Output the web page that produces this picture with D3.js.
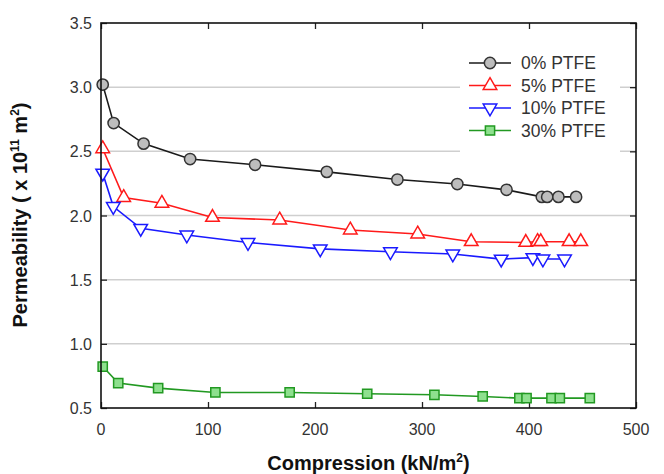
<!DOCTYPE html>
<html lang='en'>
<head>
<meta charset='utf-8'>
<title>Permeability vs Compression</title>
<script src='https://cdnjs.cloudflare.com/ajax/libs/d3/7.8.5/d3.min.js'></script>
<style>
body {
   margin:0;
   background:white;
   overflow:hidden;
}
svg text {
   font-family:'Liberation Sans', Arial, sans-serif;
}
</style>
</head>
<body>
<script>
// values
var seriesNames = ['0% PTFE', '5% PTFE', '10% PTFE', '30% PTFE'];
var comp0 = [1.6, 11.8, 39.8, 83.3, 144, 211, 277, 333, 379, 412, 417, 427.5, 444];
var perm0 = [3.02, 2.72, 2.56, 2.44, 2.395, 2.34, 2.28, 2.245, 2.2, 2.145, 2.145, 2.145, 2.145];
var comp5 = [1.6, 21.2, 56.9, 104.2, 167, 233, 296, 346, 397, 408, 411, 437.5, 448.4];
var perm5 = [2.52, 2.14, 2.095, 1.985, 1.965, 1.887, 1.856, 1.796, 1.79, 1.797, 1.796, 1.796, 1.796];
var comp10 = [1.6, 11.5, 37.1, 80.2, 137.4, 204.9, 270.5, 328.8, 374, 403.6, 413, 433.2];
var perm10 = [2.33, 2.07, 1.9, 1.848, 1.79, 1.74, 1.718, 1.7, 1.66, 1.672, 1.661, 1.661];
var comp30 = [1.6, 16.1, 53.4, 106.9, 176.3, 248.8, 311.6, 356.7, 391, 397.7, 421, 428.8, 456.8];
var perm30 = [0.823, 0.694, 0.655, 0.621, 0.621, 0.611, 0.603, 0.59, 0.577, 0.577, 0.577, 0.577, 0.577];
var xTicks = [0, 100, 200, 300, 400, 500];
var yTicks = [0.5, 1.0, 1.5, 2.0, 2.5, 3.0, 3.5];
var gridVals = [1.0, 1.5, 2.0, 2.5, 3.0];

var W = 664, H = 474;
var pL = 101, pR = 636, pT = 23, pB = 408;

var series = [
   {name:seriesNames[0], xs:comp0, ys:perm0, line:'#1a1a1a', stroke:'#333', fill:'#bdbdbd', sym:'circle'},
   {name:seriesNames[1], xs:comp5, ys:perm5, line:'#ff1a1a', stroke:'#ff1a1a', fill:'#fff', sym:'up'},
   {name:seriesNames[2], xs:comp10, ys:perm10, line:'#1a1aff', stroke:'#1a1aff', fill:'#fff', sym:'down'},
   {name:seriesNames[3], xs:comp30, ys:perm30, line:'#229922', stroke:'#229922', fill:'#8ee08e', sym:'square'}
];

var x = d3.scaleLinear().domain([0, 500]).range([pL, pR]);
var y = d3.scaleLinear().domain([0.5, 3.5]).range([pB, pT]);

var svg = d3.select('body').append('svg').attr('width', W).attr('height', H);

// grid
svg.append('g').selectAll('line')
   .data(gridVals).enter().append('line')
   .attr('x1', pL).attr('x2', pR)
   .attr('y1', function(d){return y(d);}).attr('y2', function(d){return y(d);})
   .style('stroke', '#cfcfcf').style('stroke-width', 1.5);

// inward ticks on all four sides
var tk = 6;
svg.append('g').call(d3.axisBottom(x).tickValues(xTicks).tickSize(tk).tickFormat(''))
   .attr('transform', 'translate(0,' + (pB - tk) + ')');
svg.append('g').call(d3.axisTop(x).tickValues(xTicks).tickSize(tk).tickFormat(''))
   .attr('transform', 'translate(0,' + (pT + tk) + ')');
svg.append('g').call(d3.axisLeft(y).tickValues(yTicks).tickSize(tk).tickFormat(''))
   .attr('transform', 'translate(' + (pL + tk) + ',0)');
svg.append('g').call(d3.axisRight(y).tickValues(yTicks).tickSize(tk).tickFormat(''))
   .attr('transform', 'translate(' + (pR - tk) + ',0)');
svg.selectAll('.domain').remove();
svg.selectAll('.tick line').style('stroke', '#222').style('stroke-width', 1.3);

// tick labels
svg.append('g').selectAll('text')
   .data(xTicks).enter().append('text')
   .attr('x', function(d){return x(d);}).attr('y', pB + 27)
   .attr('text-anchor', 'middle')
   .style('font-size', '16px').style('fill', '#333')
   .text(function(d){return d;});
svg.append('g').selectAll('text')
   .data(yTicks).enter().append('text')
   .attr('x', pL - 9).attr('y', function(d){return y(d) + 6;})
   .attr('text-anchor', 'end')
   .style('font-size', '16px').style('fill', '#333')
   .text(function(d){return d3.format('.1f')(d);});

// legend box (drawn under the data)
var lg = svg.append('g').attr('transform', 'translate(460,42)');
lg.append('rect').attr('x', 0).attr('y', 0).attr('width', 160).attr('height', 112)
   .style('fill', 'white');

function symPath(s, size) {
   if (s === 'circle') return d3.symbol().type(d3.symbolCircle).size(size)();
   if (s === 'square') return d3.symbol().type(d3.symbolSquare).size(size * 0.85)();
   return d3.symbol().type(d3.symbolTriangle).size(size * 0.8)();
}
function symXform(s, px, py) {
   var t = 'translate(' + px + ',' + py + ')';
   if (s === 'down') t += ' rotate(180)';
   return t;
}

var line = d3.line().x(function(d){return x(d[0]);}).y(function(d){return y(d[1]);});
series.forEach(function(s) {
   var pts = s.xs.map(function(v, i){return [v, s.ys[i]];});
   svg.append('path').datum(pts)
      .attr('d', line)
      .style('fill', 'none').style('stroke', s.line).style('stroke-width', 1.6);
   svg.append('g').selectAll('path')
      .data(pts).enter().append('path')
      .attr('d', symPath(s.sym, 100))
      .attr('transform', function(d){return symXform(s.sym, x(d[0]), y(d[1]));})
      .style('fill', s.fill).style('stroke', s.stroke).style('stroke-width', 1.5);
});

// legend entries
series.forEach(function(s, i) {
   var ry = 21 + i * 22.5;
   lg.append('line').attr('x1', 9).attr('x2', 51).attr('y1', ry).attr('y2', ry)
      .style('stroke', s.line).style('stroke-width', 1.6);
   lg.append('path').attr('d', symPath(s.sym, 100))
      .attr('transform', symXform(s.sym, 30, ry))
      .style('fill', s.fill).style('stroke', s.stroke).style('stroke-width', 1.5);
   lg.append('text').attr('x', 61).attr('y', ry + 6)
      .style('font-size', '17.5px').style('fill', '#333')
      .text(s.name);
});

// frame
svg.append('rect').attr('x', pL).attr('y', pT)
   .attr('width', pR - pL).attr('height', pB - pT)
   .style('fill', 'none').style('stroke', '#111').style('stroke-width', 1.6);

// axis titles
var xt = svg.append('text').attr('x', (pL + pR) / 2).attr('y', 470)
   .attr('text-anchor', 'middle')
   .style('font-size', '20px').style('font-weight', 'bold').style('fill', '#111');
xt.append('tspan').text('Compression (kN/m');
xt.append('tspan').attr('dy', -8).style('font-size', '12px').text('2');
xt.append('tspan').attr('dy', 8).text(')');

var yt = svg.append('text')
   .attr('transform', 'translate(27,' + 215 + ') rotate(-90)')
   .attr('text-anchor', 'middle')
   .style('font-size', '20px').style('font-weight', 'bold').style('fill', '#111');
yt.append('tspan').text('Permeability ( x 10');
yt.append('tspan').attr('dy', -8).style('font-size', '12px').text('11');
yt.append('tspan').attr('dy', 8).text(' m');
yt.append('tspan').attr('dy', -8).style('font-size', '12px').text('2');
yt.append('tspan').attr('dy', 8).text(')');
</script>
</body>
</html>
